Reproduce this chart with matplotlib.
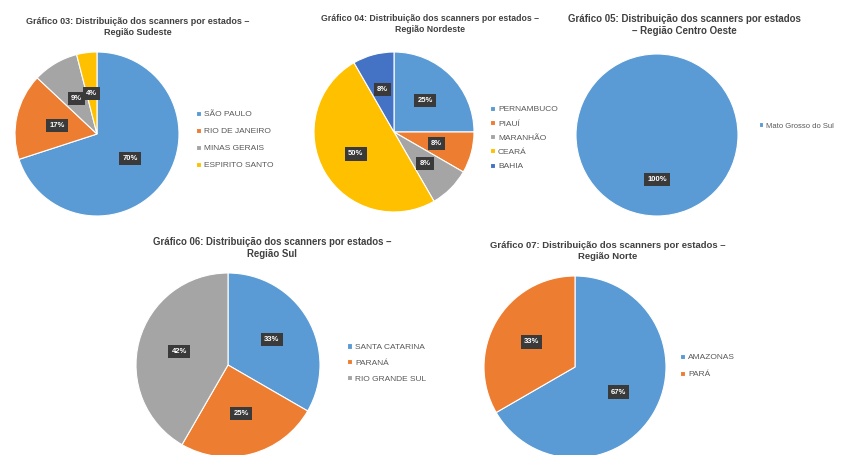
import matplotlib
matplotlib.use("Agg")
from matplotlib import pyplot as plt

plt.rcParams['font.family'] = ['Liberation Sans', 'DejaVu Sans']

W, H = 842, 455

BLUE = '#5B9BD5'
ORANGE = '#ED7D31'
GRAY = '#A5A5A5'
YELLOW = '#FFC000'
DARKBLUE = '#4472C4'

# Sudeste
sudeste_states = ["SÃO PAULO", "RIO DE JANEIRO", "MINAS GERAIS", "ESPIRITO SANTO"]
sudeste_values = [70, 17, 9, 4]

# Nordeste
nordeste_states = ["PERNAMBUCO", "PIAUÍ", "MARANHÃO", "CEARÁ", "BAHIA"]
nordeste_values = [3, 1, 1, 6, 1]

# Centro Oeste
centro_states = ["Mato Grosso do Sul"]
centro_values = [1]

# Sul
sul_states = ["SANTA CATARINA", "PARANÁ", "RIO GRANDE SUL"]
sul_values = [4, 3, 5]

# Norte
norte_states = ["AMAZONAS", "PARÁ"]
norte_values = [2, 1]


def px_axes(fig, cx, cy, r):
    # axes box in pixels (origin top-left) -> figure fraction
    return fig.add_axes([(cx - r) / W, 1 - (cy + r) / H, 2 * r / W, 2 * r / H])


def draw_pie(fig, title, title_xy, title_size, center, r, values, labels,
             colors, legend_xy, spacing, pctdist=0.55, legend_size=6):
    ax = px_axes(fig, center[0], center[1], r)
    wedges, texts, autotexts = ax.pie(
        values, colors=colors, startangle=90, counterclock=False,
        autopct=lambda p: "{:.0f}%".format(p), pctdistance=pctdist,
        wedgeprops=dict(edgecolor='white', linewidth=0.8),
        textprops=dict(color='white', fontsize=5.5, fontweight='bold'))
    for t in autotexts:
        t.set_bbox(dict(boxstyle='square,pad=0.4', facecolor='#3A3A3A',
                        edgecolor='none'))
    ax.set_xlim(-1.0, 1.0)
    ax.set_ylim(-1.0, 1.0)

    fig.text(title_xy[0] / W, 1 - title_xy[1] / H, title, ha='center',
             va='top', fontsize=title_size, fontweight='bold',
             color='#404040', linespacing=1.3)

    leg = fig.legend(wedges, labels, loc='center left',
                     bbox_to_anchor=(legend_xy[0] / W, 1 - legend_xy[1] / H),
                     frameon=False, fontsize=legend_size, labelspacing=spacing,
                     handlelength=0.55, handleheight=0.55, handletextpad=0.4,
                     borderpad=0, borderaxespad=0)
    for t in leg.get_texts():
        t.set_color('#595959')


fig = plt.figure(figsize=(W / 100, H / 100), dpi=100)

draw_pie(fig, "Gráfico 03: Distribuição dos scanners por estados –\nRegião Sudeste",
         (138, 17), 6.5, (97, 134), 82, sudeste_values, sudeste_states,
         [BLUE, ORANGE, GRAY, YELLOW], (196, 140), 1.15, pctdist=0.5)

draw_pie(fig, "Gráfico 04: Distribuição dos scanners por estados –\nRegião Nordeste",
         (430, 14), 6.3, (394, 132), 80, nordeste_values, nordeste_states,
         [BLUE, ORANGE, GRAY, YELLOW, DARKBLUE], (490, 138), 0.8, pctdist=0.55)

draw_pie(fig, "Gráfico 05: Distribuição dos scanners por estados\n– Região Centro Oeste",
         (684, 14), 7.0, (657, 135), 81, centro_values, centro_states,
         [BLUE], (759, 126), 1.0, pctdist=0.55, legend_size=5.5)

draw_pie(fig, "Gráfico 06: Distribuição dos scanners por estados –\nRegião Sul",
         (272, 237), 6.9, (228, 365), 92, sul_values, sul_states,
         [BLUE, ORANGE, GRAY], (347, 363), 1.0, pctdist=0.55)

draw_pie(fig, "Gráfico 07: Distribuição dos scanners por estados –\nRegião Norte",
         (608, 241), 6.8, (575, 367), 91, norte_values, norte_states,
         [BLUE, ORANGE], (680, 366), 1.15, pctdist=0.55)

plt.savefig('out.png', dpi=100)
plt.close()
